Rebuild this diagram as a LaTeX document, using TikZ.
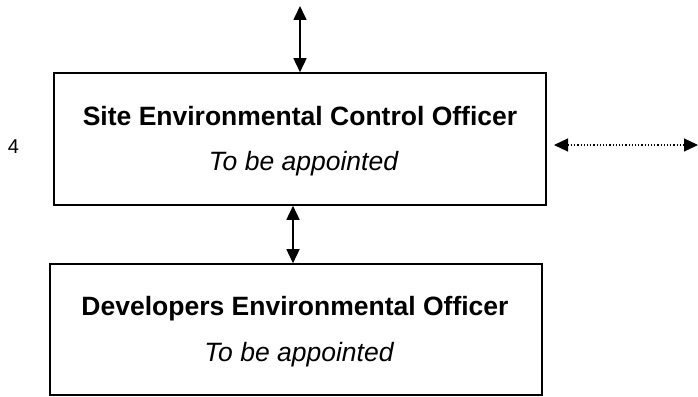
\documentclass[tikz,border=0pt]{standalone}
\usepackage{fontspec}
\setmainfont{Liberation Sans}
\usetikzlibrary{arrows.meta}
\begin{document}
\begin{tikzpicture}[x=1pt,y=-1pt,
  officebox/.style={draw,line width=1.6pt,inner sep=0pt},
  titletext/.style={font=\bfseries\fontsize{26.5}{30}\selectfont,anchor=base},
  subtext/.style={font=\itshape\fontsize{26.5}{30}\selectfont,anchor=base},
  link/.style={line width=1.6pt,{Triangle[length=14pt,width=13pt]}-{Triangle[length=14pt,width=13pt]}}]
\useasboundingbox (0,0) rectangle (698,396);
\node[officebox,minimum width=492pt,minimum height=132pt] (seco) at (300,139) {};
\node[officebox,minimum width=492pt,minimum height=131pt] (deo) at (296,329.5) {};
\node[titletext] (t1) at (300,125) {Site Environmental Control Officer};
\node[subtext] (s1) at (303.5,170) {To be appointed};
\node[titletext] (t2) at (295,315) {Developers Environmental Officer};
\node[subtext] (s2) at (299,361) {To be appointed};
\node[font=\fontsize{20}{22}\selectfont,anchor=base] (four) at (13.5,153) {4};
\coordinate (topend) at (300,6);
\coordinate (dl) at (554,145);
\coordinate (dr) at (698,145);
\draw[link] (topend) -- (seco.north -| topend);
\draw[link] (seco.south -| 293,0) -- (deo.north -| 293,0);
\draw[link,line width=1.2pt,dotted] (dl) -- (dr);
\end{tikzpicture}
\end{document}
